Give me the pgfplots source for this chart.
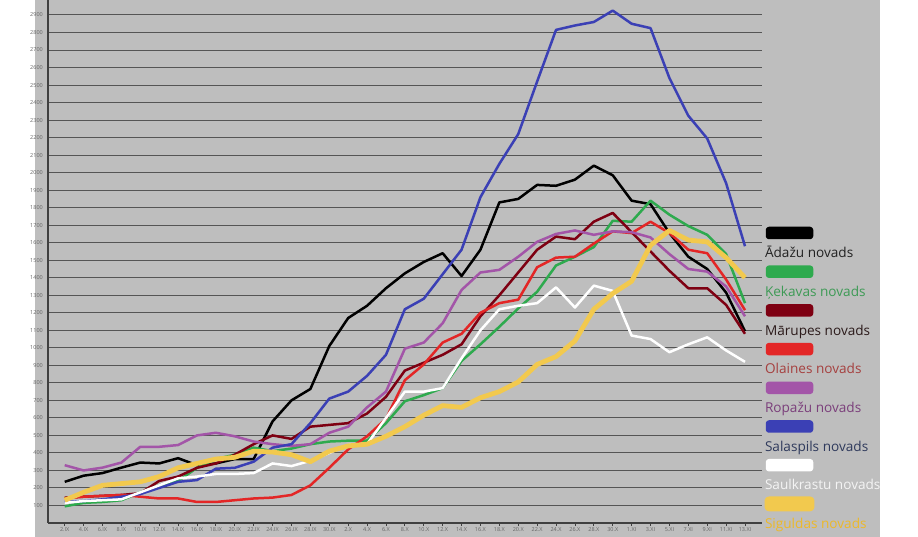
\documentclass[border=0pt]{standalone}
\usepackage{fontspec}
\setmainfont{Open Sans}
\usepackage{pgfplots}
\pgfplotsset{compat=1.18}
\usepackage{pgfplotstable}

\definecolor{bg}{HTML}{BEBEBE}
\definecolor{gridc}{HTML}{555555}
\definecolor{axc}{HTML}{404040}
\definecolor{lblc}{HTML}{666666}
\definecolor{cad}{HTML}{000000}
\definecolor{cke}{HTML}{2EAA4E}
\definecolor{cma}{HTML}{7E0012}
\definecolor{col}{HTML}{E32626}
\definecolor{cro}{HTML}{A355A8}
\definecolor{csa}{HTML}{3B40B5}
\definecolor{csk}{HTML}{FFFFFF}
\definecolor{csi}{HTML}{F2C94E}
\definecolor{tad}{HTML}{222222}
\definecolor{tke}{HTML}{3D9A55}
\definecolor{tma}{HTML}{2B1A1A}
\definecolor{tol}{HTML}{A5403F}
\definecolor{tro}{HTML}{7B3F7B}
\definecolor{tsa}{HTML}{2F3A5C}
\definecolor{tsk}{HTML}{F4F4F4}
\definecolor{tsi}{HTML}{EDB928}

\pgfplotstableread{
i ad ke ma ol ro sa sk si
0 235 95 145 140 330 120 115 130
1 270 115 150 150 300 125 125 175
2 285 120 155 155 316 135 130 215
3 316 130 160 160 345 150 135 225
4 345 175 170 150 435 165 175 235
5 340 215 240 140 435 200 215 265
6 370 240 265 140 445 235 255 315
7 330 315 315 120 500 245 265 340
8 340 365 340 120 515 310 280 365
9 365 390 390 130 495 315 280 375
10 365 430 450 140 465 350 285 410
11 580 410 500 145 450 430 340 405
12 700 425 480 160 440 450 325 390
13 765 450 550 215 450 570 355 350
14 1010 465 560 315 515 710 400 410
15 1170 470 570 420 550 750 445 440
16 1240 470 625 495 660 840 450 450
17 1340 570 720 595 750 960 600 495
18 1425 695 870 815 995 1220 750 550
19 1490 730 915 905 1030 1280 750 615
20 1540 770 960 1030 1140 1420 770 670
21 1410 925 1020 1080 1330 1560 940 660
22 1560 1020 1180 1200 1430 1860 1100 715
23 1830 1120 1300 1255 1445 2050 1220 750
24 1850 1225 1430 1275 1520 2220 1240 805
25 1930 1320 1560 1460 1605 2520 1255 905
26 1925 1470 1635 1515 1650 2815 1345 950
27 1960 1520 1620 1520 1670 2840 1230 1040
28 2040 1575 1720 1595 1645 2860 1355 1220
29 1985 1725 1770 1665 1665 2925 1325 1310
30 1840 1720 1660 1655 1660 2850 1070 1380
31 1820 1840 1550 1720 1630 2825 1050 1585
32 1655 1760 1440 1655 1535 2540 975 1670
33 1520 1695 1340 1560 1450 2325 1020 1615
34 1450 1645 1340 1540 1435 2195 1060 1605
35 1315 1535 1245 1390 1350 1940 985 1515
36 1095 1255 1080 1215 1180 1580 920 1400
}\data

\begin{document}
\begin{tikzpicture}[x=1pt,y=1pt]
\path[use as bounding box] (0pt,0pt) rectangle (918pt,537pt);
\fill[white] (0pt,0pt) rectangle (918pt,537pt);
\fill[bg] (35pt,0pt) rectangle (880pt,537pt);
\begin{axis}[
  at={(48pt,14pt)}, anchor=south west,
  scale only axis, width=714pt, height=523pt,
  xmin=-0.884, xmax=36.9, ymin=0, ymax=2985.6,
  axis x line*=bottom, axis y line*=left,
  axis line style={-, draw=axc, line width=1.2pt},
  ymajorgrids, major grid style={draw=gridc, line width=1pt},
  ytick={100,200,...,2900},
  xtick={0,...,36},
  xticklabels={2.IX,4.IX,6.IX,8.IX,10.IX,12.IX,14.IX,16.IX,18.IX,20.IX,22.IX,24.IX,26.IX,28.IX,30.IX,2.X,4.X,6.X,8.X,10.X,12.X,14.X,16.X,18.X,20.X,22.X,24.X,26.X,28.X,30.X,1.XI,3.XI,5.XI,7.XI,9.XI,11.XI,13.XI},
  tick align=outside, major tick length=3pt,
  xtick style={draw=axc, line width=0.8pt},
  ytick style={draw=none},
  scaled ticks=false,
  /pgf/number format/1000 sep={},
  /pgf/number format/assume math mode=true,
  tick label style={font=\fontsize{5.5}{6.5}\selectfont, text=lblc},
  yticklabel style={inner sep=0pt, xshift=-2pt},
  xticklabel style={inner sep=1pt},
  no markers,
  clip=false,
  legend cell align=left,
  legend style={at={(1.0042,0.5282)}, anchor=north west, draw=none, fill=none,
    inner sep=0pt, outer sep=0pt, row sep=24.2pt, column sep=0pt,
    font=\fontsize{13.6}{16}\selectfont,
    nodes={inner sep=0pt, text height=11pt, text depth=3.5pt}},
  legend image code/.code={\fill[#1, overlay, rounded corners=2pt] (2pt,16pt) rectangle (47pt,26pt);},
]
\addplot[color=cad, line width=2.5pt, line join=round] table[x=i,y=ad]{\data};
\addlegendentry{\textcolor{tad}{Ādažu novads}}
\addplot[color=cke, line width=2.5pt, line join=round] table[x=i,y=ke]{\data};
\addlegendentry{\textcolor{tke}{Ķekavas novads}}
\addplot[color=cma, line width=2.5pt, line join=round] table[x=i,y=ma]{\data};
\addlegendentry{\textcolor{tma}{Mārupes novads}}
\addplot[color=col, line width=2.5pt, line join=round] table[x=i,y=ol]{\data};
\addlegendentry{\textcolor{tol}{Olaines novads}}
\addplot[color=cro, line width=2.5pt, line join=round] table[x=i,y=ro]{\data};
\addlegendentry{\textcolor{tro}{Ropažu novads}}
\addplot[color=csa, line width=2.5pt, line join=round] table[x=i,y=sa]{\data};
\addlegendentry{\textcolor{tsa}{Salaspils novads}}
\addplot[color=csk, line width=2.5pt, line join=round] table[x=i,y=sk]{\data};
\addlegendentry{\textcolor{tsk}{Saulkrastu novads}}
\addplot[color=csi, line width=4.8pt, line join=round] table[x=i,y=si]{\data};
\addlegendentry{\textcolor{tsi}{Siguldas novads}}
\end{axis}
\end{tikzpicture}
\end{document}
